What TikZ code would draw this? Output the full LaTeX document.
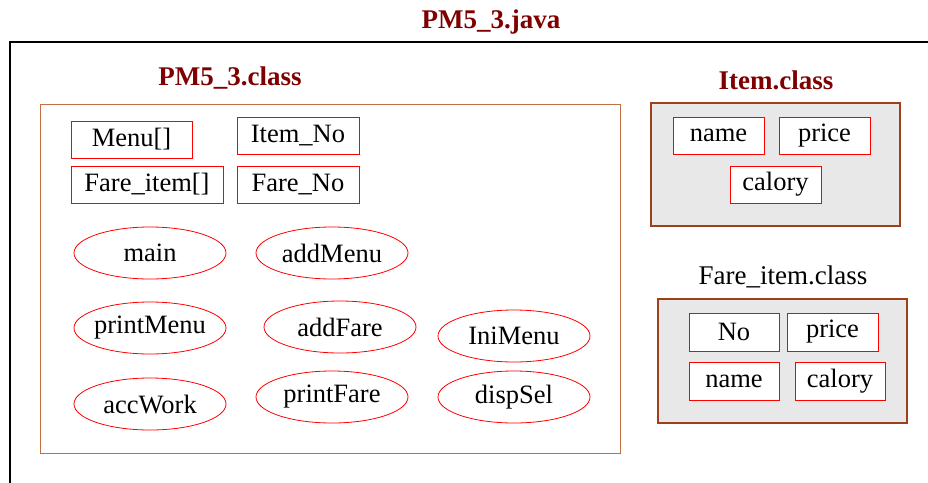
\documentclass[tikz,border=0pt]{standalone}
\usepackage{fontspec}
\setmainfont{Liberation Serif}
\usetikzlibrary{shapes.geometric}
\definecolor{titlered}{HTML}{7F0000}
\definecolor{boxbrown}{HTML}{A0401A}
\definecolor{classbrown}{HTML}{C0703F}
\definecolor{panelgray}{HTML}{E8E8E8}
\tikzset{
  title/.style={text=titlered,font=\fontsize{27}{30}\selectfont\bfseries,inner sep=0pt},
  plainlabel/.style={text=black,font=\fontsize{27}{30}\selectfont,inner sep=0pt},
  field/.style={draw=red,fill=white,line width=1pt,inner sep=0pt,font=\fontsize{26.5}{30}\selectfont,minimum height=37pt},
  meth/.style={ellipse,draw=red,fill=white,line width=0.8pt,inner xsep=-15pt,inner ysep=0pt,font=\fontsize{26.5}{30}\selectfont,minimum width=152pt,minimum height=52pt},
  panel/.style={draw=boxbrown,fill=panelgray,line width=2pt},
}
\begin{document}
\begin{tikzpicture}[x=1pt,y=-1pt]
\useasboundingbox (0,0) rectangle (928,482);
% outer frame (open at right and bottom)
\coordinate (fr) at (930,42);
\coordinate (fc) at (10,42);
\coordinate (fb) at (10,484);
\draw[line width=1.5pt] (fr) -- (fc) -- (fb);
\node[title] (java) at (491,22) {PM5\_3.java};
% PM5_3 class
\node[title] (pmclass) at (230,78) {PM5\_3.class};
\draw[classbrown,line width=0.8pt] (40,104) rectangle (620,453);
\node[field,minimum width=121pt] (menu) at (131.5,139.5) {Menu[]};
\node[field,minimum width=122pt] (itemno) at (298,135.5) {Item\_No};
\node[field,minimum width=152pt] (fareitem) at (147,184.5) {Fare\_item[]};
\node[field,minimum width=122pt] (fareno) at (298,184.5) {Fare\_No};
\node[meth] (main) at (150,253) {main};
\node[meth] (addmenu) at (332,253) {addMenu};
\node[meth] (printmenu) at (150,328) {printMenu};
\node[meth] (addfare) at (340,327) {addFare};
\node[meth] (inimenu) at (514,336) {IniMenu};
\node[meth] (accwork) at (150,404) {accWork};
\node[meth] (printfare) at (332,397) {printFare};
\node[meth] (dispsel) at (514,397) {dispSel};
% Item class
\node[title] (itemclass) at (776,80) {Item.class};
\draw[panel] (651,103) rectangle (900,226);
\node[field,minimum width=91pt] (iname) at (718.5,135.5) {name};
\node[field,minimum width=91pt] (iprice) at (824.5,135.5) {price};
\node[field,minimum width=91pt] (icalory) at (775.5,184.5) {calory};
% Fare_item class
\node[plainlabel] (fareclass) at (783,277) {Fare\_item.class};
\draw[panel] (658,299) rectangle (907,423);
\node[field,minimum width=90pt,minimum height=38pt] (fno) at (734,332) {No};
\node[field,minimum width=91pt,minimum height=38pt] (fprice) at (832.5,332) {price};
\node[field,minimum width=90pt,minimum height=38pt] (fname) at (734,381) {name};
\node[field,minimum width=90pt,minimum height=38pt] (fcalory) at (840,381) {calory};
\end{tikzpicture}
\end{document}
